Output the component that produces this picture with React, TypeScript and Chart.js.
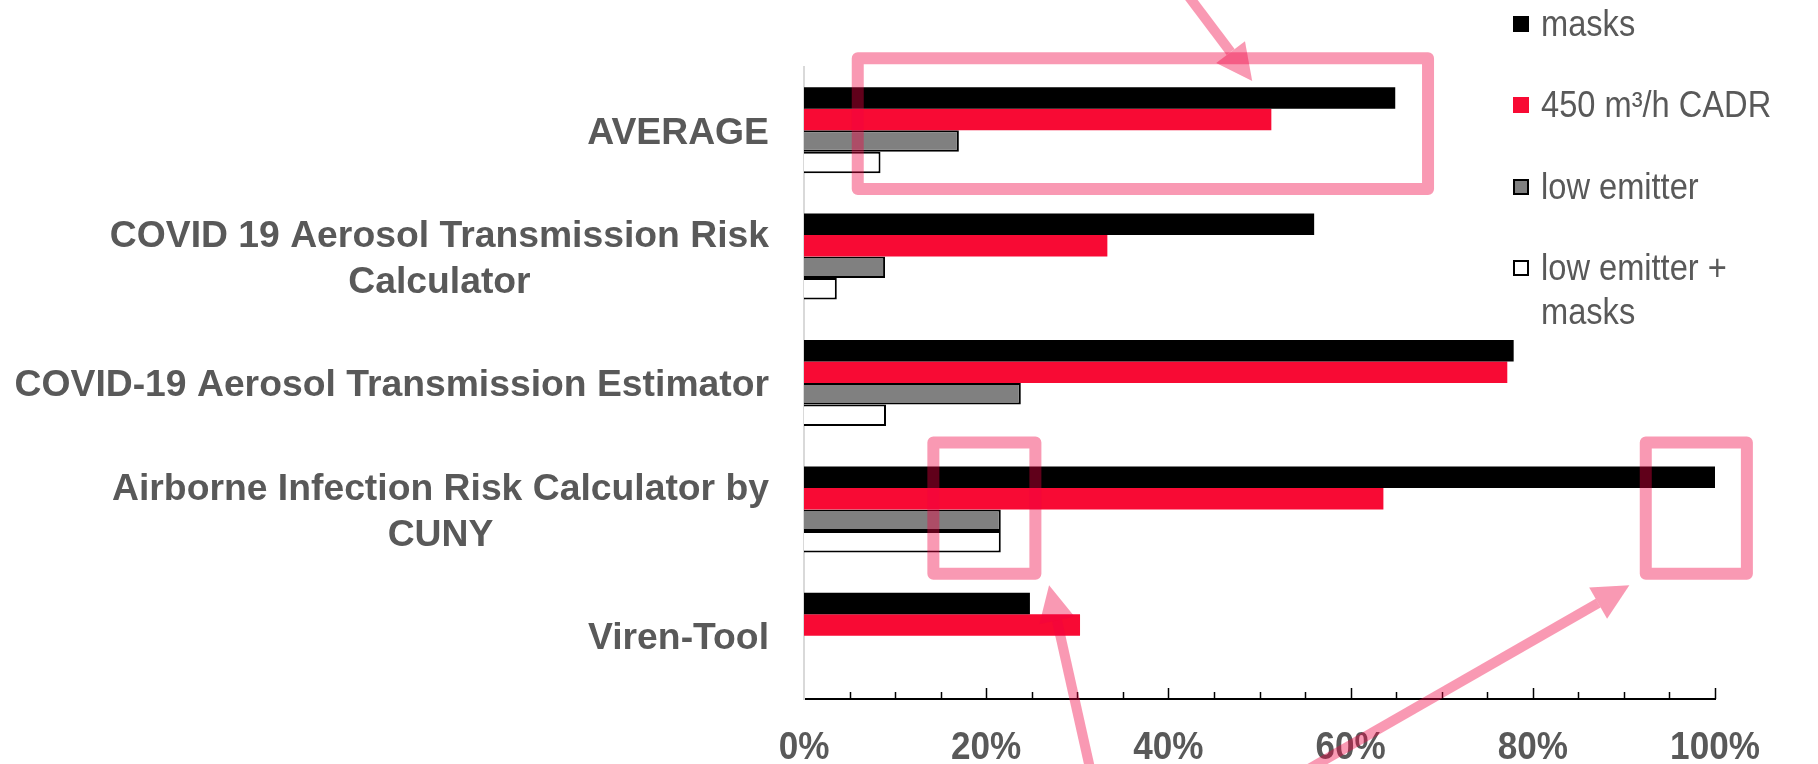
import React, { useEffect, useRef } from 'react';
import { Chart, registerables } from 'chart.js';

Chart.register(...registerables);

// ---------- data ----------
const categoryLines: string[][] = [
  ['AVERAGE'],
  ['COVID 19 Aerosol Transmission Risk', 'Calculator'],
  ['COVID-19 Aerosol Transmission Estimator'],
  ['Airborne Infection Risk Calculator by', 'CUNY'],
  ['Viren-Tool'],
];
const seriesNames = ['masks', '450 m³/h CADR', 'low emitter', 'low emitter + masks'];
const masks = [64.9, 56.0, 77.9, 100, 24.8];
const cadr = [51.3, 33.3, 77.2, 63.6, 30.3];
const lowEmitter = [17.0, 8.9, 23.8, 21.6, 0];
const lowEmitterMasks = [8.4, 3.6, 9.0, 21.6, 0];
const xTickValues = [0, 20, 40, 60, 80, 100];

// ---------- styles ----------
const TEXT = '#595959';
const RED = '#F80A34';
const PINK = 'rgba(241,0,64,0.4)';
const FONT = '"Liberation Sans", Arial, sans-serif';

// highlight annotations (x in %, y in category index units)
const boxes = [
  { x0: 5.9, x1: 68.5, y0: -0.57, y1: 0.465 },
  { x0: 14.2, x1: 25.4, y0: 2.47, y1: 3.51 },
  { x0: 92.4, x1: 103.5, y0: 2.47, y1: 3.51 },
];
const arrows = [
  { x0: 41.8, y0: -1.1, x1: 49.2, y1: -0.39 },
  { x0: 31.4, y0: 5.05, x1: 26.9, y1: 3.6 },
  { x0: 55.5, y0: 5.05, x1: 90.6, y1: 3.6 },
];

const yLabelPlugin = {
  id: 'yLabels',
  afterDraw(chart: any) {
    const { ctx, chartArea } = chart;
    const ys = chart.scales.y;
    const size = 37.3;
    ctx.save();
    ctx.font = `bold ${size}px ${FONT}`;
    ctx.fillStyle = TEXT;
    ctx.textBaseline = 'alphabetic';
    ctx.textAlign = 'center';
    const lh = 46;
    const capHalf = (0.716 * size) / 2;
    const right = chartArea.left - 35;
    categoryLines.forEach((lines, i) => {
      const cy = ys.getPixelForValue(i);
      const w = Math.max(...lines.map((l) => ctx.measureText(l).width));
      lines.forEach((l, j) => {
        const y = cy + (j - (lines.length - 1) / 2) * lh + capHalf;
        ctx.fillText(l, right - w / 2, y);
      });
    });
    ctx.restore();
  },
};

const xLabelPlugin = {
  id: 'xLabels',
  afterDraw(chart: any) {
    const { ctx, chartArea } = chart;
    const xs = chart.scales.x;
    ctx.save();
    ctx.font = `bold 39px ${FONT}`;
    ctx.fillStyle = TEXT;
    ctx.textBaseline = 'alphabetic';
    ctx.textAlign = 'center';
    const baseline = chartArea.bottom + 60;
    xTickValues.forEach((v) => {
      const px = xs.getPixelForValue(v);
      ctx.save();
      ctx.translate(px, baseline);
      ctx.scale(0.9, 1);
      ctx.fillText(`${v}%`, 0, 0);
      ctx.restore();
    });
    ctx.restore();
  },
};

const tickPlugin = {
  id: 'axisTicks',
  afterDatasetsDraw(chart: any) {
    const { ctx, chartArea } = chart;
    const xs = chart.scales.x;
    ctx.save();
    ctx.strokeStyle = '#000';
    ctx.lineWidth = 1.5;
    for (let v = 5; v <= 100; v += 5) {
      const px = Math.round(xs.getPixelForValue(v)) + 0.5;
      const len = v % 20 === 0 ? 11 : 7;
      ctx.beginPath();
      ctx.moveTo(px, chartArea.bottom);
      ctx.lineTo(px, chartArea.bottom - len);
      ctx.stroke();
    }
    ctx.restore();
  },
};

const annotationPlugin = {
  id: 'highlights',
  afterDraw(chart: any) {
    const { ctx } = chart;
    const xs = chart.scales.x;
    const ys = chart.scales.y;
    ctx.save();
    ctx.strokeStyle = PINK;
    ctx.fillStyle = PINK;
    ctx.lineWidth = 12;
    ctx.lineJoin = 'round';
    boxes.forEach((b) => {
      const x0 = xs.getPixelForValue(b.x0);
      const x1 = xs.getPixelForValue(b.x1);
      const y0 = ys.getPixelForValue(b.y0);
      const y1 = ys.getPixelForValue(b.y1);
      ctx.beginPath();
      ctx.rect(x0, y0, x1 - x0, y1 - y0);
      ctx.stroke();
    });
    arrows.forEach((a) => {
      const x0 = xs.getPixelForValue(a.x0);
      const y0 = ys.getPixelForValue(a.y0);
      const x1 = xs.getPixelForValue(a.x1);
      const y1 = ys.getPixelForValue(a.y1);
      const ang = Math.atan2(y1 - y0, x1 - x0);
      const headLen = 36;
      const headW = 18;
      const bx = x1 - headLen * Math.cos(ang);
      const by = y1 - headLen * Math.sin(ang);
      ctx.lineWidth = 10;
      ctx.lineCap = 'butt';
      ctx.beginPath();
      ctx.moveTo(x0, y0);
      ctx.lineTo(bx, by);
      ctx.stroke();
      ctx.beginPath();
      ctx.moveTo(x1, y1);
      ctx.lineTo(bx + headW * Math.sin(ang), by - headW * Math.cos(ang));
      ctx.lineTo(bx - headW * Math.sin(ang), by + headW * Math.cos(ang));
      ctx.closePath();
      ctx.fill();
    });
    ctx.restore();
  },
};

const legendItems = [
  { name: seriesNames[0], lines: ['masks'], bg: '#000000', border: 'none' },
  { name: seriesNames[1], lines: ['450 m³/h CADR'], bg: RED, border: 'none' },
  { name: seriesNames[2], lines: ['low emitter'], bg: '#808080', border: '2px solid #000' },
  { name: seriesNames[3], lines: ['low emitter +', 'masks'], bg: '#ffffff', border: '2px solid #000' },
];

export default function App() {
  const ref = useRef<HTMLCanvasElement | null>(null);

  useEffect(() => {
    if (!ref.current) return;
    const chart = new Chart(ref.current, {
      type: 'bar',
      data: {
        labels: categoryLines.map((l) => l.join(' ')),
        datasets: [
          { label: seriesNames[0], data: masks, backgroundColor: '#000000', borderWidth: 0 },
          { label: seriesNames[1], data: cadr, backgroundColor: RED, borderWidth: 0 },
          { label: seriesNames[2], data: lowEmitter, backgroundColor: '#808080', borderColor: '#000', borderWidth: 2 },
          { label: seriesNames[3], data: lowEmitterMasks, backgroundColor: '#ffffff', borderColor: '#000', borderWidth: 2 },
        ],
      },
      options: {
        indexAxis: 'y',
        responsive: false,
        maintainAspectRatio: false,
        animation: false,
        layout: { padding: { left: 0, top: 67, right: 103, bottom: 0 } },
        datasets: { bar: { categoryPercentage: 0.68, barPercentage: 1.0 } },
        plugins: { legend: { display: false }, tooltip: { enabled: false } },
        scales: {
          x: {
            type: 'linear',
            min: 0,
            max: 100,
            afterBuildTicks: (scale: any) => {
              scale.ticks = xTickValues.map((v) => ({ value: v }));
            },
            afterFit: (scale: any) => {
              scale.height = 65;
            },
            grid: { display: false, drawTicks: false },
            border: { display: true, color: '#000', width: 2 },
            ticks: { display: false },
          },
          y: {
            type: 'category',
            afterFit: (scale: any) => {
              scale.width = 804;
            },
            grid: { display: false, drawTicks: false },
            border: { display: true, color: '#d9d9d9', width: 2 },
            ticks: { display: false },
          },
        },
      },
      plugins: [tickPlugin, yLabelPlugin, xLabelPlugin, annotationPlugin],
    } as any);
    return () => chart.destroy();
  }, []);

  return (
    <div style={{ position: 'fixed', left: 0, top: 0, width: 1818, height: 764, background: '#fff', overflow: 'hidden' }}>
      <canvas ref={ref} width={1818} height={764} style={{ position: 'absolute', left: 0, top: 0 }} />
      {legendItems.map((it, i) => (
        <div
          key={it.name}
          style={{
            position: 'absolute',
            left: 1513,
            top: 2 + i * 81.3,
            fontFamily: FONT,
            fontSize: 36,
            lineHeight: '44px',
            color: TEXT,
            display: 'flex',
            alignItems: 'flex-start',
            whiteSpace: 'nowrap',
          }}
        >
          <div
            style={{
              width: 16,
              height: 16,
              marginTop: 14,
              marginRight: 12,
              background: it.bg,
              border: it.border,
              boxSizing: 'border-box',
              flex: 'none',
            }}
          />
          <div style={{ transform: 'scaleX(0.906)', transformOrigin: 'left center' }}>
            {it.lines.map((l, j) => (
              <div key={j}>{l}</div>
            ))}
          </div>
        </div>
      ))}
    </div>
  );
}
